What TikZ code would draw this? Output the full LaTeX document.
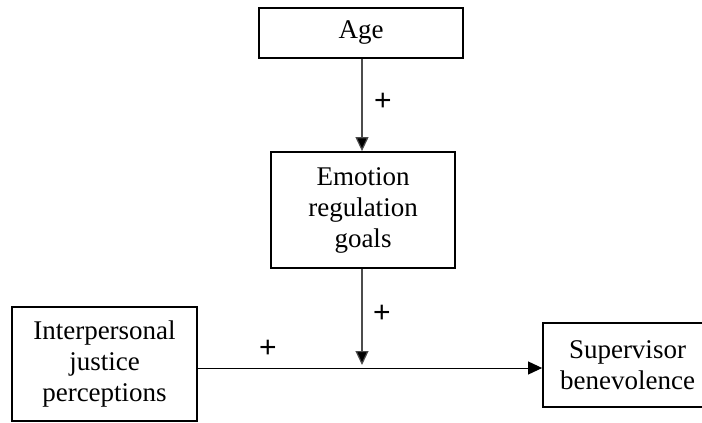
\documentclass[tikz,border=0pt]{standalone}
\usepackage{fontspec}
\setmainfont{Liberation Serif}
\setsansfont{Liberation Sans}
\usetikzlibrary{arrows.meta}
\begin{document}
\begin{tikzpicture}[x=1pt,y=-1pt,
  box/.style={draw=black,line width=1.8pt,align=center,inner sep=0pt,
    font=\fontsize{27}{31}\selectfont},
  conn/.style={line width=1.2pt,draw=black!70,-{Triangle[length=14pt,width=13pt,fill=black]}},
  plus/.style={font=\fontsize{30}{32}\selectfont\sffamily}]
\useasboundingbox (0,0) rectangle (702,423);
\node[box,minimum width=204pt,minimum height=50pt] (age) at (361,33) {Age};
\node[box,minimum width=184pt,minimum height=116pt] (emo) at (363,210) {Emotion\\regulation\\goals};
\node[box,minimum width=185pt,minimum height=114pt] (ij) at (104.5,364) {Interpersonal\\justice\\perceptions};
\node[box,minimum width=169pt,minimum height=84pt] (sb) at (627.5,365) {Supervisor\\benevolence};
\coordinate (j) at (362,368);
\draw[conn] (age.south -| j) -- (emo.north -| j);
\draw[conn,shorten >=3pt] (emo.south -| j) -- (j);
\draw[conn,draw=black,line width=1pt] (ij.east |- j) -- (sb.west |- j);
\node[plus] (p1) at (383,102) {+};
\node[plus] (p2) at (382,314) {+};
\node[plus] (p3) at (268,349) {+};
\end{tikzpicture}
\end{document}
